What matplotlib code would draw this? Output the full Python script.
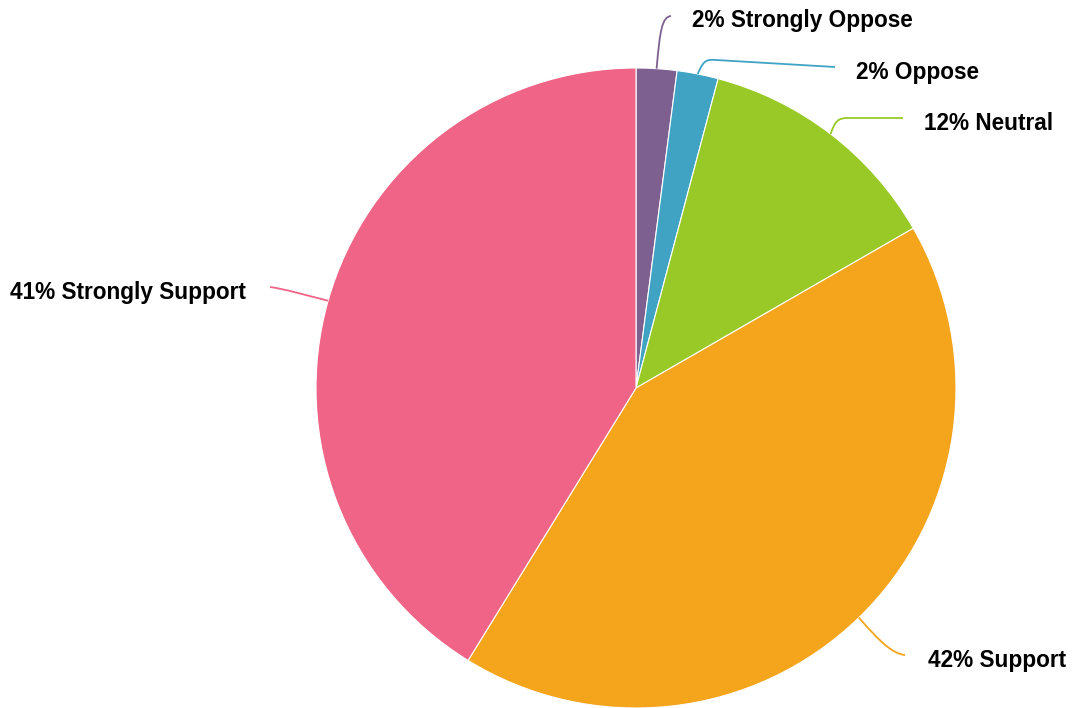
import numpy as np
import matplotlib.pyplot as plt
from matplotlib.path import Path
from matplotlib.patches import PathPatch

# share of answers, clockwise from the top
labels = ["Strongly Oppose", "Oppose", "Neutral", "Support", "Strongly Support"]
values = [2.05, 2.08, 12.55, 42.1, 41.2]
pct_text = ["2%", "2%", "12%", "42%", "41%"]
colors = ["#7E6090", "#40A3C4", "#98C927", "#F5A51C", "#EF6487"]

W, H = 1073, 708
cx, cy, r = 636, 388, 320  # pixel coords, y from top

fig = plt.figure(figsize=(W / 100, H / 100), dpi=100)
ax = fig.add_axes([0, 0, 1, 1])

wedges, _ = ax.pie(values, colors=colors, startangle=90, counterclock=False,
                   center=(cx, H - cy), radius=r,
                   wedgeprops=dict(edgecolor="white", linewidth=0.8))
ax.set_xlim(0, W)
ax.set_ylim(0, H)
ax.axis("off")

# leader line: bezier points (pixels from top) after the start on the edge,
# optional straight tail, then label position and alignment
leaders = [
    ([(660, 30), (662, 17), (671, 16)], None, (692, 20), "left"),
    ([(703, 62), (705, 59), (716, 60)], (835, 67), (856, 72), "left"),
    ([(835, 121), (838, 118), (848, 118)], (903, 118), (924, 123), "left"),
    ([(880, 642), (893, 654), (905, 655)], None, (928, 660), "left"),
    ([(305, 295), (285, 289), (270, 287)], None, (246, 292), "right"),
]

total = sum(values)
cum = 0
for v, lab, pct, col, (pts, tail, (tx, ty), ha) in zip(values, labels, pct_text, colors, leaders):
    mid = (cum + v / 2) / total * 2 * np.pi
    cum += v
    sx = cx + r * np.sin(mid)
    sy = cy - r * np.cos(mid)
    verts = [(sx, H - sy)] + [(x, H - y) for x, y in pts]
    codes = [Path.MOVETO, Path.CURVE4, Path.CURVE4, Path.CURVE4]
    if tail is not None:
        verts.append((tail[0], H - tail[1]))
        codes.append(Path.LINETO)
    ax.add_patch(PathPatch(Path(verts, codes), facecolor="none",
                           edgecolor=col, linewidth=1.3))
    ax.text(tx, H - ty, f"{pct} {lab}", ha=ha, va="center",
            fontsize=16.3, fontweight="bold", family="Liberation Sans",
            color="black")

fig.savefig("out.png", dpi=100)
